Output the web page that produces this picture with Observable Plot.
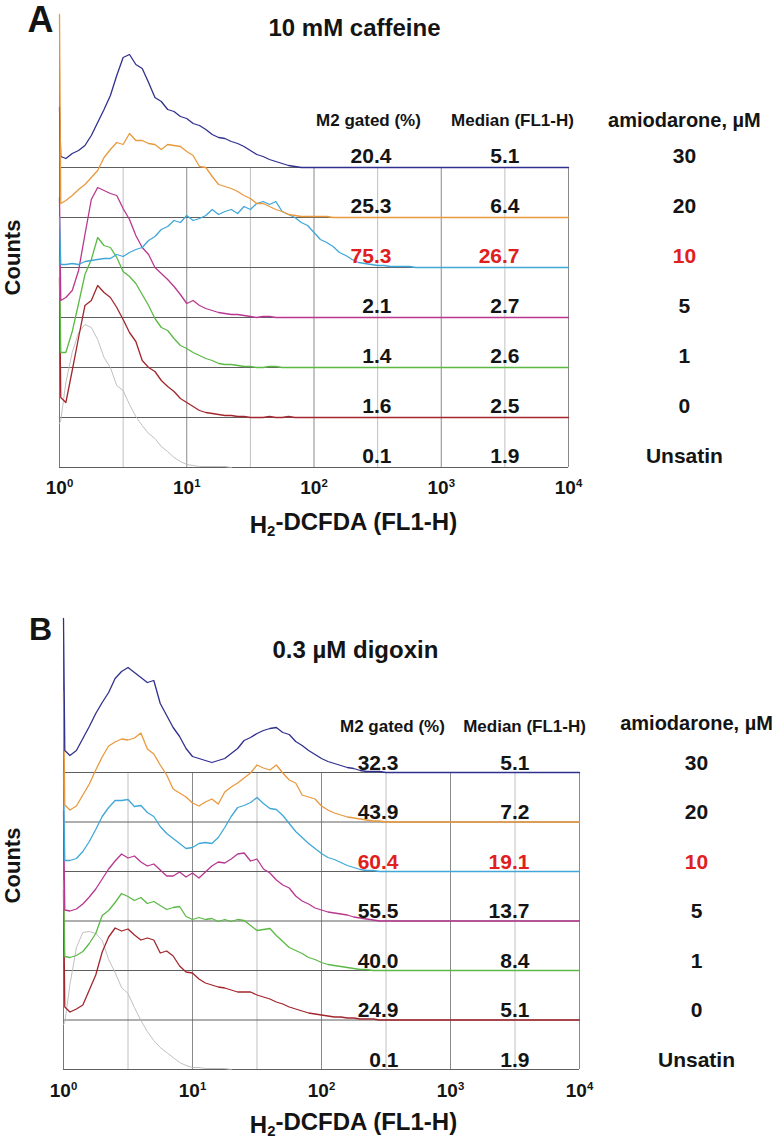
<!DOCTYPE html>
<html>
<head>
<meta charset="utf-8">
<script src="https://cdn.jsdelivr.net/npm/d3@7"></script>
<script src="https://cdn.jsdelivr.net/npm/@observablehq/plot@0.6"></script>
<style>
  body { margin: 0; background: #fff; }
  #wrap { position: relative; width: 775px; height: 1138px; overflow: hidden; background: #fff; }
  #wrap svg { position: absolute; left: 0; }
</style>
</head>
<body>
<div id="wrap"></div>
<script>
// ---------- DATA ----------
// log10(FL1-H) channel positions shared by all histograms (first entry = first-channel spike)
const channelDecades = [0, 0.01, 0.05, 0.1, 0.15, 0.2, 0.25, 0.3, 0.35, 0.4, 0.45, 0.5, 0.55, 0.6, 0.65, 0.7, 0.75, 0.8, 0.85, 0.9, 0.95, 1, 1.05, 1.1, 1.15, 1.2, 1.25, 1.3, 1.35, 1.4, 1.45, 1.5, 1.55, 1.6, 1.65, 1.7, 1.75, 1.8, 1.85, 1.9, 1.95, 2, 2.05, 2.1, 2.15, 2.2, 2.25, 2.3, 2.35, 2.4, 2.45, 2.5, 2.55, 2.6, 2.65, 2.7, 2.75, 2.8, 2.85, 2.9, 2.95, 3];

const amiodaroneLabels = ["30", "20", "10", "5", "1", "0", "Unsatin"];
const tickExponents = [0, 1, 2, 3, 4];
const gridDecades = [0.5, 1, 1.5, 2, 2.5, 3, 3.5, 4];

// Panel A: 10 mM caffeine (counts per channel, top row to bottom row)
const caffeineAmio30 = [60, 11, 9, 14, 17, 22, 32, 45, 58, 72, 92, 110, 113, 103, 99, 85, 70, 66, 58, 56, 51, 49, 44, 42, 38, 33, 30, 29, 26, 24, 21, 17, 13, 11, 8, 6, 4, 2, 1, 0];
const caffeineAmio20 = [203, 14, 17, 22, 28, 33, 40, 47, 60, 68, 75, 73, 84, 77, 77, 74, 73, 68, 73, 72, 71, 66, 62, 51, 50, 41, 33, 31, 29, 26, 22, 19, 14, 14, 11, 8, 6, 3, 2, 1, 1, 1, 1, 1, 0];
const caffeineAmio10 = [50, 3, 3, 4, 3, 6, 7, 8, 9, 9, 13, 11, 15, 18, 20, 27, 31, 38, 41, 47, 45, 52, 47, 49, 52, 58, 53, 56, 58, 54, 61, 58, 64, 66, 63, 66, 56, 53, 50, 45, 42, 35, 28, 25, 21, 15, 12, 8, 5, 4, 3, 2, 2, 1, 1, 1, 1, 0];
const caffeineAmio5 = [120, 17, 20, 27, 47, 83, 118, 130, 127, 124, 122, 109, 98, 82, 70, 63, 50, 44, 38, 31, 23, 14, 17, 12, 9, 7, 5, 4, 3, 3, 2, 1, 0, 1, 1, 0];
const caffeineAmio1 = [110, 15, 15, 36, 64, 93, 108, 130, 122, 120, 110, 96, 91, 84, 73, 62, 49, 40, 37, 29, 22, 19, 15, 12, 9, 7, 4, 3, 3, 2, 1, 1, 0, 0, 1, 1, 0];
const caffeineAmio0 = [140, 20, 15, 47, 80, 112, 117, 132, 125, 120, 110, 98, 85, 76, 57, 50, 46, 37, 31, 26, 19, 15, 11, 7, 5, 4, 3, 2, 2, 1, 1, 0, 0, 0, 1, 0, 0, 1, 0];
const caffeineUnstained = [44, 47, 85, 115, 135, 143, 140, 128, 110, 100, 82, 77, 63, 51, 42, 34, 29, 21, 16, 10, 6, 3, 2, 1, 1, 1, 1, 1, 0];
const caffeineM2 = ["20.4", "25.3", "75.3", "2.1", "1.4", "1.6", "0.1"];
const caffeineMedian = ["5.1", "6.4", "26.7", "2.7", "2.6", "2.5", "1.9"];

// Panel B: 0.3 uM digoxin
const digoxinAmio30 = [154, 22, 17, 22, 34, 46, 59, 70, 80, 94, 101, 105, 100, 95, 90, 92, 69, 57, 45, 36, 24, 16, 14, 12, 10, 12, 14, 19, 24, 32, 35, 39, 42, 44, 45, 40, 38, 31, 27, 22, 18, 14, 11, 9, 7, 5, 4, 2, 1, 1, 1, 0];
const digoxinAmio20 = [130, 17, 12, 16, 27, 38, 52, 65, 76, 80, 83, 82, 84, 89, 73, 68, 57, 47, 33, 29, 25, 19, 16, 20, 23, 18, 30, 35, 39, 44, 49, 57, 54, 52, 57, 49, 42, 39, 27, 25, 23, 16, 12, 9, 7, 5, 4, 3, 2, 1, 1, 0];
const digoxinAmio10 = [100, 11, 11, 13, 20, 30, 42, 55, 64, 71, 71, 72, 65, 66, 59, 55, 45, 38, 33, 28, 23, 24, 28, 29, 28, 34, 44, 55, 64, 66, 69, 74, 68, 63, 62, 56, 48, 40, 34, 28, 23, 18, 14, 12, 9, 6, 4, 2, 1, 1, 0];
const digoxinAmio5 = [110, 11, 10, 12, 17, 24, 32, 42, 52, 60, 67, 63, 65, 59, 55, 57, 51, 45, 45, 49, 44, 48, 43, 49, 55, 59, 58, 62, 67, 68, 60, 62, 52, 48, 41, 36, 33, 25, 20, 17, 13, 11, 9, 8, 7, 6, 4, 3, 2, 1, 0];
const digoxinAmio1 = [90, 14, 13, 15, 19, 27, 37, 55, 60, 68, 77, 74, 70, 73, 67, 69, 65, 61, 63, 64, 54, 51, 53, 51, 52, 49, 51, 49, 51, 50, 45, 40, 41, 42, 35, 29, 23, 20, 17, 13, 11, 8, 6, 5, 4, 3, 2, 1, 1, 0];
const digoxinAmio0 = [130, 13, 8, 11, 15, 30, 45, 68, 83, 92, 89, 91, 85, 80, 82, 80, 67, 69, 64, 54, 48, 47, 41, 37, 35, 33, 32, 30, 28, 28, 28, 25, 23, 21, 18, 16, 13, 11, 9, 7, 6, 5, 4, 3, 3, 2, 2, 1, 1, 1, 0];
const digoxinUnstained = [45, 47, 85, 122, 137, 138, 136, 129, 110, 97, 82, 76, 62, 49, 38, 29, 22, 17, 12, 7, 4, 2, 2, 1, 1, 1, 1, 0];
const digoxinM2 = ["32.3", "43.9", "60.4", "55.5", "40.0", "24.9", "0.1"];
const digoxinMedian = ["5.1", "7.2", "19.1", "13.7", "8.4", "5.1", "1.9"];

// ---------- STYLE ----------
const seriesColors = ["#30308e", "#e9993d", "#40a7d8", "#b8378f", "#5cb946", "#a2262c", "#b9b9b9"];
const highlightRow = 2;
const red = "#e0201e";
const ink = "#141414";
const FONT = "'Liberation Sans', Arial, Helvetica, sans-serif";

function makePanel(p) {
  const L = p.layout;
  const X = d => 10 ** d;
  const offsets = p.counts.map((_, i) => p.rowStep * (6 - i));
  const series = p.counts.map((counts, i) => {
    const pts = counts.map((c, j) => ({x: 10 ** channelDecades[j], y: offsets[i] + c}));
    if (i < 6) pts.push({x: 1e4, y: offsets[i]});
    return pts;
  });
  const rows = d3.range(7);
  const blackRows = rows.filter(i => i !== highlightRow);
  const redRows = [highlightRow];
  const top = offsets[0];

  const valueMarks = [];
  for (const [rowsSel, fill] of [[blackRows, ink], [redRows, red]]) {
    valueMarks.push(
      Plot.text(rowsSel, {x: X(L.m2X), y: i => offsets[i] + L.lift, text: i => p.m2[i], textAnchor: "end", lineAnchor: "bottom", fill, fontSize: 21, fontWeight: "bold"}),
      Plot.text(rowsSel, {x: X(L.medX), y: i => offsets[i] + L.lift, text: i => p.median[i], textAnchor: "end", lineAnchor: "bottom", fill, fontSize: 21, fontWeight: "bold"}),
      Plot.text(rowsSel, {x: X(L.amioX), y: i => offsets[i] + L.lift, text: i => amiodaroneLabels[i], textAnchor: "middle", lineAnchor: "bottom", fill, fontSize: 21, fontWeight: "bold"})
    );
  }

  const svg = Plot.plot({
    width: 775,
    height: p.height,
    marginLeft: p.marginLeft,
    marginRight: p.marginRight,
    marginTop: p.marginTop,
    marginBottom: p.marginBottom,
    x: {type: "log", domain: [1, 1e4], axis: null},
    y: {domain: [0, p.yMax], axis: null},
    style: {fontFamily: FONT, background: "transparent", overflow: "visible"},
    marks: [
      Plot.ruleX(gridDecades, {x: d => 10 ** d, y1: 0, y2: top, stroke: d => d % 1 === 0 ? "#8a8a8a" : "#c0c0c0", strokeWidth: 1}),
      Plot.ruleY(offsets, {y: d => d, x1: 1, x2: 1e4, stroke: "#5e5e5e", strokeWidth: 1}),
      Plot.ruleX([1], {y1: 0, y2: p.yMax, stroke: "#777"}),
      ...p.drawOrder.map(i => Plot.line(series[i], {x: "x", y: "y", stroke: seriesColors[i], strokeWidth: i === 6 ? 0.9 : 1.3})),
      Plot.text([p.letter], {x: X(L.letterX), y: L.letterY, text: d => d, fontSize: L.letterSize, fontWeight: "bold", lineAnchor: "bottom", fill: ink}),
      Plot.text([p.title], {x: X(L.titleX), y: L.titleY, text: d => d, fontSize: 24, fontWeight: "bold", textAnchor: "start", lineAnchor: "bottom", fill: ink}),
      Plot.text(["M2 gated (%)"], {x: X(L.m2HeadX), y: L.headY, text: d => d, fontSize: 17, fontWeight: "bold", lineAnchor: "bottom", fill: ink}),
      Plot.text(["Median (FL1-H)"], {x: X(L.medHeadX), y: L.headY, text: d => d, fontSize: 17, fontWeight: "bold", lineAnchor: "bottom", fill: ink}),
      Plot.text(["amiodarone, µM"], {x: X(L.amioX), y: L.amioHeadY, text: d => d, fontSize: 20, fontWeight: "bold", lineAnchor: "bottom", fill: ink}),
      ...valueMarks,
      Plot.text(tickExponents, {x: e => 10 ** e, y: L.tickY, text: e => "10^" + e, fontSize: 19, fontWeight: "bold", lineAnchor: "bottom", fill: ink}),
      Plot.text(["H2-DCFDA (FL1-H)"], {x: X(L.xTitleX), y: L.xTitleY, text: d => d, fontSize: 24, fontWeight: "bold", lineAnchor: "bottom", fill: ink}),
      Plot.text(["Counts"], {x: X(L.countsX), y: L.countsY, text: d => d, fontSize: 22, fontWeight: "bold", rotate: -90, lineAnchor: "middle", fill: ink})
    ]
  });

  // superscript exponents and subscript "2"
  d3.select(svg).selectAll("text").each(function () {
    const s = this.textContent;
    const t = d3.select(this);
    if (/^10\^\d$/.test(s)) {
      const [base, exp] = s.split("^");
      t.text(null);
      t.append("tspan").text(base);
      t.append("tspan").attr("dy", "-0.55em").attr("font-size", "0.6em").text(exp);
    } else if (s === "H2-DCFDA (FL1-H)") {
      t.text(null);
      t.append("tspan").text("H");
      t.append("tspan").attr("dy", "0.25em").attr("font-size", "0.62em").text("2");
      t.append("tspan").attr("dy", "-0.25em").text("-DCFDA (FL1-H)");
    }
  });
  svg.style.top = p.top + "px";
  return svg;
}

const wrap = document.getElementById("wrap");

wrap.appendChild(makePanel({
  top: 0, height: 545, marginLeft: 59, marginRight: 207, marginTop: 14, marginBottom: 78,
  yMax: 453, rowStep: 50, letter: "A", title: "10 mM caffeine",
  counts: [caffeineAmio30, caffeineAmio20, caffeineAmio10, caffeineAmio5, caffeineAmio1, caffeineAmio0, caffeineUnstained],
  m2: caffeineM2, median: caffeineMedian,
  drawOrder: [6, 5, 4, 3, 2, 0, 1],
  layout: {
    letterX: -0.149, letterY: 436, letterSize: 36,
    titleX: 1.642, titleY: 432,
    m2HeadX: 2.428, medHeadX: 3.56, headY: 342, amioHeadY: 341,
    m2X: 2.609, medX: 3.615, amioX: 4.911, lift: 5,
    tickY: -26, xTitleX: 2.31, xTitleY: -65,
    countsX: -0.365, countsY: 210
  }
}));

wrap.appendChild(makePanel({
  top: 560, height: 578, marginLeft: 63, marginRight: 196, marginTop: 58, marginBottom: 69,
  yMax: 451, rowStep: 49.5, letter: "B", title: "0.3 µM digoxin",
  counts: [digoxinAmio30, digoxinAmio20, digoxinAmio10, digoxinAmio5, digoxinAmio1, digoxinAmio0, digoxinUnstained],
  m2: digoxinM2, median: digoxinMedian,
  drawOrder: [6, 5, 4, 3, 2, 1, 0],
  layout: {
    letterX: -0.178, letterY: 430, letterSize: 32,
    titleX: 1.62, titleY: 412,
    m2HeadX: 2.55, medHeadX: 3.574, headY: 338, amioHeadY: 340,
    m2X: 2.597, medX: 3.612, amioX: 4.907, lift: 3,
    tickY: -27, xTitleX: 2.248, xTitleY: -63,
    countsX: -0.395, countsY: 204
  }
}));
</script>
</body>
</html>
